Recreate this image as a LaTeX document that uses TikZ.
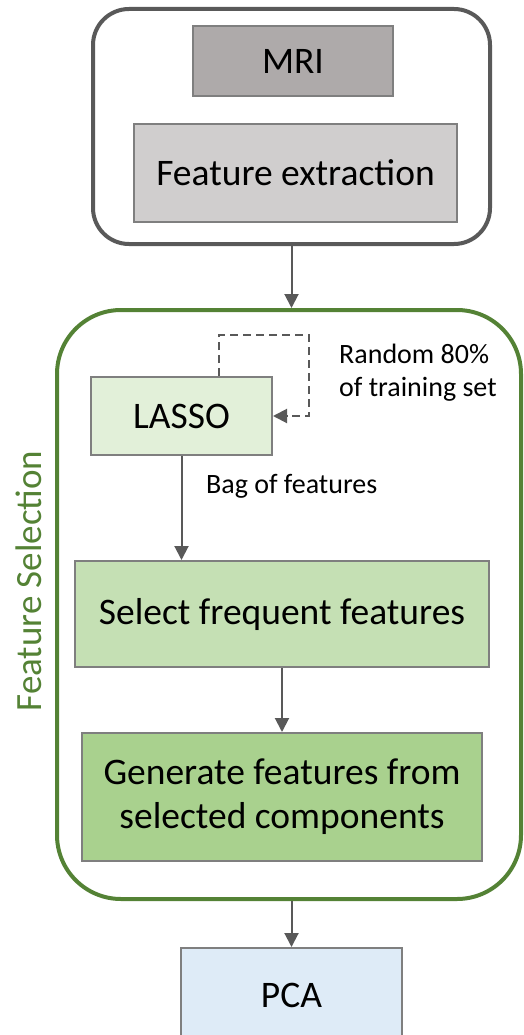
\documentclass[tikz,border=0pt]{standalone}
\usepackage{fontspec}
\setmainfont{Carlito}
\usetikzlibrary{arrows.meta,calc}
\definecolor{boxedge}{HTML}{7F7F7F}
\definecolor{arrowgray}{HTML}{595959}
\definecolor{prepedge}{HTML}{595959}
\definecolor{fsgreen}{HTML}{548235}
\definecolor{mrifill}{HTML}{AEAAAA}
\definecolor{extfill}{HTML}{D0CECE}
\definecolor{lassofill}{HTML}{E2F0D9}
\definecolor{selfill}{HTML}{C5E0B4}
\definecolor{genfill}{HTML}{A9D18E}
\definecolor{pcafill}{HTML}{DEEBF7}
\tikzset{
  stepbox/.style={draw=boxedge, line width=2pt, rectangle, inner sep=0pt,
    align=center, font=\fontsize{37.5}{44}\selectfont},
  flow/.style={draw=arrowgray, line width=2pt,
    -{Triangle[length=14pt,width=14pt]}},
  note/.style={font=\fontsize{28}{33}\selectfont, align=left, inner sep=0pt},
}
\begin{document}
\begin{tikzpicture}[x=1pt,y=-1pt]
\clip (0,0) rectangle (523,1035);

% preprocessing group
\node[draw=prepedge, line width=4pt, rounded corners=36pt, minimum width=397pt,
  minimum height=235pt, inner sep=0pt] (prep) at (291.5,126.5) {};
\node[stepbox, fill=mrifill, minimum width=200pt, minimum height=70pt] (mri) at (293,61) {MRI};
\node[stepbox, fill=extfill, minimum width=323pt, minimum height=98pt] (ext) at (295.5,173) {Feature extraction};

% feature selection group
\node[draw=fsgreen, line width=4pt, rounded corners=64pt, minimum width=464pt,
  minimum height=589pt, inner sep=0pt] (fs) at (289,604.5) {};
\node[rotate=90, text=fsgreen, font=\fontsize{37}{44}\selectfont, inner sep=0pt] (fslabel) at (29,581) {Feature Selection};

\node[stepbox, fill=lassofill, minimum width=181pt, minimum height=78pt] (lasso) at (181.5,416) {LASSO};
\node[stepbox, fill=selfill, minimum width=414pt, minimum height=106pt] (select) at (282,614) {Select frequent features};
\node[stepbox, fill=genfill, minimum width=400pt, minimum height=128pt] (gen) at (282,797) {Generate features from\\selected components};

\node[stepbox, fill=pcafill, minimum width=221pt, minimum height=120pt] (pca) at (291.5,1008) {};
\node[font=\fontsize{37.5}{44}\selectfont, inner sep=0pt] (pcatext) at (291.5,995) {PCA};

% resampling loop
\coordinate (loopstart) at ($(lasso.north west)!0.707!(lasso.north east)$);
\coordinate (loopcorner) at (309,335);
\draw[draw=arrowgray, line width=2pt, dash pattern=on 8pt off 5pt,
  -{Triangle[length=14pt,width=14pt]}]
  (loopstart) |- (loopcorner) |- (lasso.east);
\node[note, anchor=west] (randnote) at (339,373) {Random 80\%\\of training set};

% main flow
\draw[flow] (prep.south) -- (prep.south |- fs.north);
\draw[flow] (lasso.south) -- (lasso.south |- select.north);
\node[note, anchor=west] (bagnote) at (206,486) {Bag of features};
\draw[flow] (select.south) -- (gen.north);
\draw[flow] (fs.south -| pca.north) -- (pca.north);
\end{tikzpicture}
\end{document}
